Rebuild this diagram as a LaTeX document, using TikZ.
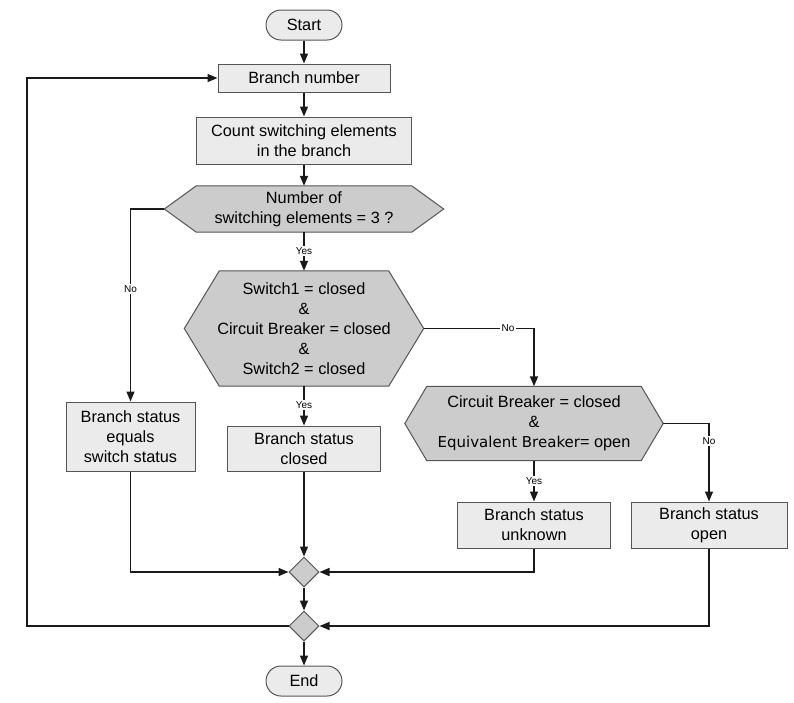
\documentclass[tikz,border=0pt]{standalone}
\usepackage{fontspec}
\setmainfont{Liberation Sans}
\newfontfamily\dejavu{DejaVu Sans}
\usetikzlibrary{arrows.meta,backgrounds,shapes.geometric}
\definecolor{boxfill}{HTML}{EBEBEB}
\definecolor{decfill}{HTML}{CCCCCC}
\definecolor{edge}{HTML}{555555}
\definecolor{wire}{HTML}{1A1A1A}
\begin{document}
\begin{tikzpicture}[x=1pt,y=-1pt,
  every node/.style={font=\fontsize{16.3}{20}\selectfont, align=center, inner sep=0pt},
  procbox/.style={draw=edge, fill=boxfill, line width=1pt},
  termbox/.style={draw=edge, fill=boxfill, line width=1pt, rounded corners=15pt, minimum width=76pt, minimum height=30pt},
  decnode/.style={},
  hexa/.style={draw=edge, fill=decfill, line width=1pt},
  merge/.style={diamond, draw=edge, fill=decfill, line width=1pt, minimum width=30pt, minimum height=30pt},
  wirearrow/.style={draw=wire, line width=1.4pt, -{Triangle[length=10pt,width=8pt]}},
  lbl/.style={font=\fontsize{10}{12}\selectfont, fill=white, inner sep=1.5pt}
]
\useasboundingbox (0,0) rectangle (794,702);

\node[termbox] (start) at (304,25) {Start};
\node[procbox, minimum width=172pt, minimum height=28pt] (bn) at (304,78) {Branch number};
\node[procbox, minimum width=215pt, minimum height=47pt] (cnt) at (304,140.5) {Count switching elements\\in the branch};
\node[decnode, minimum width=279pt, minimum height=46pt] (d1) at (304,209) {Number of\\switching elements = 3 ?};
\node[decnode, minimum width=239pt, minimum height=115pt] (d2) at (304,328.5) {Switch1 = closed\\\&\\Circuit Breaker = closed\\\&\\Switch2 = closed};
\node[decnode, minimum width=258pt, minimum height=74pt] (d3) at (534,423.5) {Circuit Breaker = closed\\\&\\{\dejavu\fontsize{15}{20}\selectfont Equivalent Breaker}= open};
\node[procbox, minimum width=129pt, minimum height=69pt] (lb) at (130.5,436.5) {Branch status\\equals\\switch status};
\node[procbox, minimum width=153pt, minimum height=45pt] (cls) at (304,448.5) {Branch status\\closed};
\node[procbox, minimum width=153pt, minimum height=46pt] (unk) at (534,525) {Branch status\\unknown};
\node[procbox, minimum width=156pt, minimum height=46pt] (opn) at (709,525) {Branch status\\open};
\node[merge] (m1) at (304,572) {};
\node[merge] (m2) at (304,626) {};
\node[termbox] (end) at (304,681) {End};
\coordinate (loop) at (27,626);

\begin{scope}[on background layer]
\fill[white] (0,0) rectangle (794,702);
\foreach \n/\c in {d1/32,d2/35,d3/22}
  \draw[hexa] ([xshift=\c pt]\n.north west) -- ([xshift=-\c pt]\n.north east) -- (\n.east)
    -- ([xshift=-\c pt]\n.south east) -- ([xshift=\c pt]\n.south west) -- (\n.west) -- cycle;
\end{scope}

\draw[wirearrow] (start) -- (bn);
\draw[wirearrow] (bn) -- (cnt);
\draw[wirearrow] (cnt) -- (d1);
\draw[wirearrow] (d1.south) -- (d2.north);
\node[lbl] (yes1) at (304,251) {Yes};
\draw[wirearrow] (d1.west) -| (lb.north);
\node[lbl] (no1) at (130.5,289) {No};
\draw[wirearrow] (d2.east) -| (d3.north);
\node[lbl] (no2) at (508,328.5) {No};
\draw[wirearrow] (d2.south) -- (cls.north);
\node[lbl] (yes2) at (304,405) {Yes};
\draw[wirearrow] (d3.south) -- (unk.north);
\node[lbl] (yes3) at (534,481) {Yes};
\draw[wirearrow] (d3.east) -| (opn.north);
\node[lbl] (no3) at (709,441) {No};
\draw[wirearrow] (lb.south) |- (m1.west);
\draw[wirearrow] (cls.south) -- (m1.north);
\draw[wirearrow] (unk.south) |- (m1.east);
\draw[wirearrow] (m1.south) -- (m2.north);
\draw[wirearrow] (opn.south) |- (m2.east);
\draw[wirearrow] (m2.west) -- (loop) |- (bn.west);
\draw[wirearrow] (m2.south) -- (end.north);
\end{tikzpicture}
\end{document}
